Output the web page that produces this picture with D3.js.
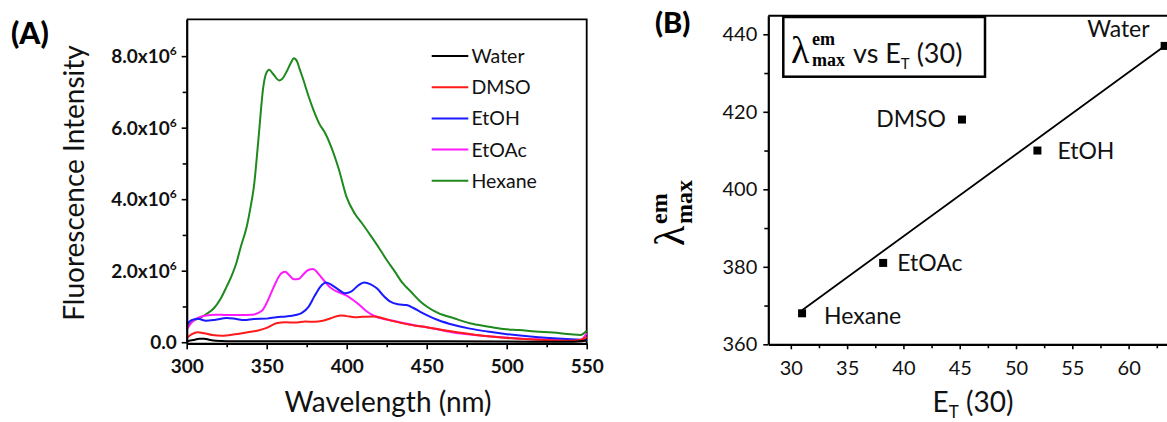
<!DOCTYPE html>
<html>
<head>
<meta charset="utf-8">
<script src="https://cdn.jsdelivr.net/npm/d3@7"></script>
<style>
  body { margin: 0; background: #fff; }
  svg { display: block; font-family: Lato, 'Open Sans', sans-serif; }
</style>
</head>
<body>
<svg id="chart" width="1167" height="422"></svg>
<script>
// ---- panel A : emission spectra (intensity in units of 10^6) ----
const waterWl = [300, 304, 308, 311, 314, 318, 325, 350, 400, 450, 500, 540, 550]
const waterI  = [0.03, 0.06, 0.1, 0.1, 0.07, 0.04, 0.03, 0.03, 0.03, 0.03, 0.02, 0.01, 0.05]

const dmsoWl = [300, 303, 307, 311, 316, 322, 330, 338, 344, 350, 356, 362, 368, 374, 380, 385, 390, 396, 400, 405, 410, 417, 422, 429, 436, 443, 450, 460, 470, 480, 490, 500, 510, 520, 530, 540, 546, 550]
const dmsoI  = [0.12, 0.22, 0.28, 0.25, 0.2, 0.18, 0.22, 0.28, 0.32, 0.4, 0.53, 0.56, 0.55, 0.58, 0.57, 0.6, 0.67, 0.75, 0.73, 0.7, 0.71, 0.72, 0.68, 0.59, 0.52, 0.46, 0.42, 0.34, 0.27, 0.21, 0.16, 0.12, 0.09, 0.07, 0.05, 0.04, 0.06, 0.15]

const etohWl = [300, 303, 307, 312, 318, 325, 331, 336, 342, 350, 356, 362, 368, 372, 376, 380, 383.5, 387, 390, 394, 399, 403, 407, 411, 415, 419, 423, 427, 432, 437.5, 442, 446, 450, 457, 467, 477, 488, 498, 510, 520, 529, 540, 550]
const etohI  = [0.5, 0.62, 0.66, 0.6, 0.63, 0.68, 0.65, 0.62, 0.65, 0.66, 0.7, 0.72, 0.76, 0.82, 0.98, 1.3, 1.55, 1.67, 1.62, 1.5, 1.37, 1.42, 1.58, 1.67, 1.62, 1.5, 1.3, 1.14, 1.06, 1.04, 0.95, 0.85, 0.76, 0.62, 0.48, 0.38, 0.3, 0.24, 0.18, 0.14, 0.11, 0.08, 0.06]

const etoacWl = [300, 303, 307, 312, 318, 325, 333, 341, 347, 350, 353, 356, 359, 361.5, 364, 367, 370, 373, 376, 379, 382, 385.5, 389, 392, 396, 400, 404, 408, 412, 417, 422, 429, 436, 443, 450, 460, 470, 480, 490, 500, 510, 520, 530, 540, 546, 550]
const etoacI  = [0.35, 0.55, 0.68, 0.75, 0.77, 0.76, 0.76, 0.77, 0.88, 1.1, 1.4, 1.7, 1.92, 1.97, 1.88, 1.76, 1.77, 1.9, 2.02, 2.05, 1.93, 1.74, 1.56, 1.46, 1.38, 1.3, 1.18, 1.04, 0.88, 0.74, 0.66, 0.6, 0.53, 0.47, 0.42, 0.33, 0.25, 0.2, 0.16, 0.13, 0.1, 0.08, 0.06, 0.05, 0.06, 0.25]

const hexaneWl = [300, 305, 308, 312, 317, 321, 325, 328, 331, 334, 337.5, 340, 342, 344.8, 347.9, 349.5, 351.6, 354, 357.9, 360, 362.5, 365, 367, 369, 370.5, 372.9, 376, 379.2, 383, 386.5, 390, 395, 400, 405, 410, 415, 420, 425, 430, 435, 440, 446, 450, 457, 467, 477, 488, 498, 508, 518, 529, 540, 546, 550]
const hexaneI  = [0.45, 0.62, 0.67, 0.78, 0.95, 1.2, 1.56, 1.85, 2.21, 2.7, 3.23, 3.8, 4.35, 5.66, 7.15, 7.5, 7.62, 7.5, 7.32, 7.38, 7.57, 7.8, 7.94, 7.85, 7.65, 7.34, 6.9, 6.5, 6.1, 5.85, 5.5, 4.85, 4.05, 3.6, 3.3, 2.98, 2.65, 2.3, 1.98, 1.65, 1.42, 1.14, 1.0, 0.82, 0.67, 0.53, 0.44, 0.37, 0.34, 0.3, 0.27, 0.22, 0.2, 0.32]

const solventNames = ['Water', 'DMSO', 'EtOH', 'EtOAc', 'Hexane']
const solventColors = ['#000000', '#ff1a1a', '#1a1aff', '#ff1aff', '#1e8a1e']

const wlTicks = [300, 350, 400, 450, 500, 550]
const wlMinor = [325, 375, 425, 475, 525]
const intTicks = [0, 2, 4, 6, 8]
const intMinor = [1, 3, 5, 7]

// ---- panel B : lambda max vs ET(30) ----
const pointNames = ['Hexane', 'EtOAc', 'DMSO', 'EtOH', 'Water']
const etValues = [31.0, 38.2, 45.2, 51.9, 63.2]
const lambdaMax = [368, 381, 418, 410, 437]
const fitEt = [31.0, 63.2]
const fitLambda = [368.8, 437]

const etTicks = [30, 35, 40, 45, 50, 55, 60]
const etMinor = [32.5, 37.5, 42.5, 47.5, 52.5, 57.5, 62.5]
const lamTicks = [360, 380, 400, 420, 440]
const lamMinor = [370, 390, 410, 430]

const svg = d3.select('#chart')

// ================= panel A =================
const xA = d3.scaleLinear().domain([300, 550]).range([186.7, 586.7])
const yA = d3.scaleLinear().domain([-0.03, 9.03]).range([343.3, 19.3])

const gA = svg.append('g')

// frame top/right
gA.append('path')
  .attr('d', `M${xA(300)},${yA(9.03)} H${xA(550)} V${yA(-0.03)}`)
  .attr('fill', 'none').attr('stroke', '#000').attr('stroke-width', 1.8)

const series = solventNames.map((name, i) => {
  const wl = [waterWl, dmsoWl, etohWl, etoacWl, hexaneWl][i]
  const val = [waterI, dmsoI, etohI, etoacI, hexaneI][i]
  return { name, color: solventColors[i], pts: wl.map((w, j) => [w, val[j]]) }
})

const line = d3.line()
  .x(d => xA(d[0]))
  .y(d => yA(d[1]))
  .curve(d3.curveMonotoneX)

// hexane behind, water on top
series.slice().reverse().forEach(s => {
  gA.append('path')
    .datum(s.pts)
    .attr('d', line)
    .attr('fill', 'none')
    .attr('stroke', s.color)
    .attr('stroke-width', 2)
})

// x axis A
const xAxisA = gA.append('g')
  .attr('transform', `translate(0,${yA(-0.03)})`)
  .call(d3.axisBottom(xA).tickValues(wlTicks).tickSize(6).tickSizeOuter(0).tickPadding(10))
gA.append('g')
  .attr('transform', `translate(0,${yA(-0.03)})`)
  .call(d3.axisBottom(xA).tickValues(wlMinor).tickSize(4).tickFormat(''))
  .call(g => g.select('.domain').remove())

// y axis A
const yAxisA = gA.append('g')
  .attr('transform', `translate(${xA(300)},0)`)
  .call(d3.axisLeft(yA).tickValues(intTicks).tickSize(5).tickSizeOuter(0).tickPadding(6).tickFormat(''))
gA.append('g')
  .attr('transform', `translate(${xA(300)},0)`)
  .call(d3.axisLeft(yA).tickValues(intMinor).tickSize(4).tickFormat(''))
  .call(g => g.select('.domain').remove())

yAxisA.selectAll('.tick').each(function (d) {
  const t = d3.select(this).append('text')
    .attr('x', -10).attr('dy', '0.35em')
    .attr('text-anchor', 'end')
  if (d === 0) {
    t.text('0.0')
  } else {
    t.text(d.toFixed(1) + 'x10')
    t.append('tspan').attr('dy', -8).attr('font-size', 12).text('6')
  }
})

;[xAxisA, yAxisA].forEach(ax => {
  ax.select('.domain').attr('stroke-width', 2.2)
  ax.selectAll('text').attr('font-size', 19).attr('font-weight', 'bold').attr('fill', '#111').attr('font-family', 'Lato, sans-serif')
})
gA.selectAll('.tick line').attr('stroke-width', 1.6)

// legend A
const legA = gA.append('g')
series.forEach((s, i) => {
  const y = 56 + i * 31.2
  legA.append('line')
    .attr('x1', 431.7).attr('x2', 468.3).attr('y1', y).attr('y2', y)
    .attr('stroke', s.color).attr('stroke-width', 2)
  legA.append('text')
    .attr('x', 471.5).attr('y', y + 7)
    .attr('font-size', 19.5).attr('fill', '#111')
    .text(s.name)
})

// titles A
gA.append('text').attr('x', 11).attr('y', 44)
  .attr('font-size', 30).attr('font-weight', 900).text('(A)')
gA.append('text').attr('x', 388).attr('y', 412)
  .attr('text-anchor', 'middle').attr('font-size', 28).attr('fill', '#111')
  .text('Wavelength (nm)')
gA.append('text')
  .attr('transform', 'translate(84,183) rotate(-90)')
  .attr('text-anchor', 'middle').attr('font-size', 28).attr('fill', '#111')
  .text('Fluorescence Intensity')

// ================= panel B =================
const xB = d3.scaleLinear().domain([28, 66]).range([768.3, 768.3 + 38 * 11.26])
const yB = d3.scaleLinear().domain([360, 444.8]).range([344.3, 15.7])

const gB = svg.append('g')

gB.append('path')
  .attr('d', `M${xB(28)},${yB(444.8)} H${xB(66)}`)
  .attr('stroke', '#000').attr('stroke-width', 2)

// fit line
gB.append('path')
  .datum(fitEt.map((e, i) => [e, fitLambda[i]]))
  .attr('d', d3.line().x(d => xB(d[0])).y(d => yB(d[1])))
  .attr('stroke', '#000').attr('stroke-width', 1.8).attr('fill', 'none')

// points
const labelOffset = {
  Hexane: [22, 11, 'start'],
  EtOAc: [14, 8, 'start'],
  DMSO: [-16, 7, 'end'],
  EtOH: [20, 8, 'start'],
  Water: [-15, -9, 'end']
}
pointNames.forEach((name, i) => {
  const cx = xB(etValues[i])
  const cy = yB(lambdaMax[i])
  gB.append('rect')
    .attr('x', cx - 4).attr('y', cy - 4).attr('width', 8).attr('height', 8)
    .attr('fill', '#000')
  const o = labelOffset[name]
  gB.append('text')
    .attr('x', cx + o[0]).attr('y', cy + o[1])
    .attr('text-anchor', o[2])
    .attr('font-size', 23).attr('fill', '#111')
    .text(name)
})

// axes B
const xAxisB = gB.append('g')
  .attr('transform', `translate(0,${yB(360)})`)
  .call(d3.axisBottom(xB).tickValues(etTicks).tickSize(5).tickSizeOuter(0).tickPadding(12))
gB.append('g')
  .attr('transform', `translate(0,${yB(360)})`)
  .call(d3.axisBottom(xB).tickValues(etMinor).tickSize(4).tickFormat(''))
  .call(g => g.select('.domain').remove())

const yAxisB = gB.append('g')
  .attr('transform', `translate(${xB(28)},0)`)
  .call(d3.axisLeft(yB).tickValues(lamTicks).tickSize(5).tickSizeOuter(0).tickPadding(6))
gB.append('g')
  .attr('transform', `translate(${xB(28)},0)`)
  .call(d3.axisLeft(yB).tickValues(lamMinor).tickSize(4).tickFormat(''))
  .call(g => g.select('.domain').remove())

;[xAxisB, yAxisB].forEach(ax => {
  ax.select('.domain').attr('stroke-width', 2.2)
  ax.selectAll('text').attr('font-size', 20).attr('fill', '#111').attr('font-family', 'Lato, sans-serif')
})
gB.selectAll('.tick line').attr('stroke-width', 1.6)

// legend box B
const boxB = gB.append('g')
boxB.append('rect')
  .attr('x', 783.3).attr('y', 17).attr('width', 201.7).attr('height', 59.7)
  .attr('fill', '#fff').attr('stroke', '#000').attr('stroke-width', 2.5)
boxB.append('text').attr('x', 791).attr('y', 63)
  .attr('font-family', 'Liberation Serif, serif').attr('font-size', 38).text('λ')
boxB.append('text').attr('x', 812).attr('y', 45)
  .attr('font-family', 'Liberation Serif, serif').attr('font-weight', 'bold').attr('font-size', 18).text('em')
boxB.append('text').attr('x', 812).attr('y', 66)
  .attr('font-family', 'Liberation Serif, serif').attr('font-weight', 'bold').attr('font-size', 18).text('max')
const lt = boxB.append('text').attr('x', 853).attr('y', 63).attr('font-size', 27).attr('fill', '#111')
lt.append('tspan').text('vs  E')
lt.append('tspan').attr('font-size', 15).attr('dy', 6).text('T')
lt.append('tspan').attr('dy', -6).text(' (30)')

// titles B
gB.append('text').attr('x', 655).attr('y', 33)
  .attr('font-size', 29).attr('font-weight', 900).text('(B)')

const xt = gB.append('text').attr('x', 973).attr('y', 412)
  .attr('text-anchor', 'middle').attr('font-size', 28).attr('fill', '#111')
xt.append('tspan').text('E')
xt.append('tspan').attr('font-size', 17).attr('dy', 6).text('T')
xt.append('tspan').attr('dy', -6).text(' (30)')

const yt = gB.append('g').attr('transform', 'translate(684,246) rotate(-90)')
yt.append('text').attr('x', 0).attr('y', 0)
  .attr('font-family', 'Liberation Serif, serif').attr('font-size', 42).text('λ')
yt.append('text').attr('x', 22).attr('y', -17)
  .attr('font-family', 'Liberation Serif, serif').attr('font-weight', 'bold').attr('font-size', 24).text('em')
yt.append('text').attr('x', 22).attr('y', 8)
  .attr('font-family', 'Liberation Serif, serif').attr('font-weight', 'bold').attr('font-size', 24).text('max')
</script>
</body>
</html>
